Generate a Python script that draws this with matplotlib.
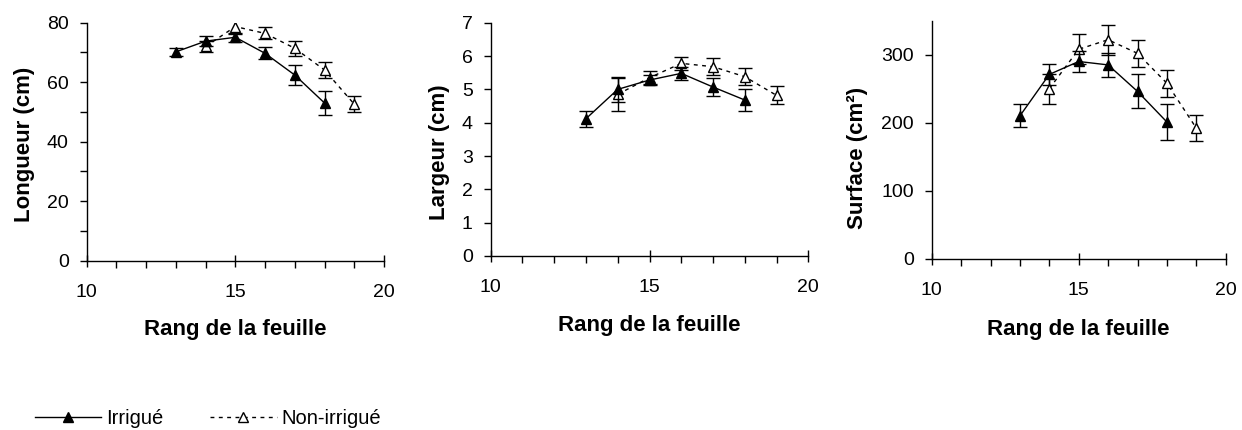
import matplotlib
matplotlib.use("Agg")
import matplotlib.pyplot as plt
from matplotlib.ticker import MultipleLocator
from matplotlib.lines import Line2D

plt.rcParams['font.family'] = ['Liberation Sans', 'DejaVu Sans']

# Data
rang_irr = [13, 14, 15, 16, 17, 18]
rang_non = [14, 15, 16, 17, 18, 19]

long_irr = [70.2, 73.8, 75.1, 69.7, 62.4, 53.0]
long_irr_err = [1.4, 1.6, 1.6, 2.0, 3.3, 4.0]
long_non = [72.0, 78.7, 76.4, 71.4, 64.1, 52.6]
long_non_err = [1.7, 2.4, 2.0, 2.5, 2.6, 2.6]

larg_irr = [4.12, 5.0, 5.28, 5.48, 5.07, 4.68]
larg_irr_err = [0.24, 0.38, 0.16, 0.2, 0.26, 0.32]
larg_non = [4.85, 5.35, 5.78, 5.68, 5.38, 4.82]
larg_non_err = [0.5, 0.2, 0.2, 0.25, 0.25, 0.27]

surf_irr = [210, 271, 290, 285, 246, 201]
surf_irr_err = [17, 16, 16, 18, 25, 26]
surf_non = [250, 308, 322, 302, 258, 192]
surf_non_err = [22, 22, 22, 20, 20, 19]

W, H = 1242, 430
fig = plt.figure(figsize=(W / 100, H / 100), dpi=100)

def make_ax(l, r, t, b):
    return fig.add_axes([l / W, (H - b) / H, (r - l) / W, (b - t) / H])

# (axes box l, r, t, b), ylabel center (x, y) px, xlabel center y px
panels = [
    ((86.7, 384, 22.7, 260.7), long_irr, long_irr_err, long_non, long_non_err,
     (0, 80), 20, 10, 'Longueur (cm)', (25, 144), 329),
    ((490.7, 808.3, 22.7, 256), larg_irr, larg_irr_err, larg_non, larg_non_err,
     (0, 7), 1, 1, 'Largeur (cm)', (440, 152), 325),
    ((931.7, 1225.7, 20.7, 258.7), surf_irr, surf_irr_err, surf_non, surf_non_err,
     (0, 350), 100, 100, 'Surface (cm²)', (857, 158), 329),
]

dash = (0, (2.8, 3.2))
for box, yi, ei, yn, en, ylim, major, minor, ylabel, ylc, xly in panels:
    l, r, t, b = box
    ax = make_ax(l, r, t, b)
    ax.errorbar(rang_non, yn, yerr=en, color='black', linestyle=dash, linewidth=1,
                marker='^', markersize=7, markerfacecolor='white', markeredgecolor='black',
                capsize=5, elinewidth=1, capthick=1, zorder=2)
    ax.errorbar(rang_irr, yi, yerr=ei, color='black', linestyle='-', linewidth=1,
                marker='^', markersize=7, markerfacecolor='black', markeredgecolor='black',
                capsize=5, elinewidth=1, capthick=1, zorder=3)
    ax.set_xlim(10, 20)
    ax.set_ylim(*ylim)
    ax.spines['top'].set_visible(False)
    ax.spines['right'].set_visible(False)
    ax.spines['left'].set_linewidth(1)
    ax.spines['bottom'].set_linewidth(1)
    ax.xaxis.set_major_locator(MultipleLocator(5))
    ax.xaxis.set_minor_locator(MultipleLocator(1))
    ax.yaxis.set_major_locator(MultipleLocator(major))
    ax.yaxis.set_minor_locator(MultipleLocator(minor))
    ax.tick_params(axis='x', which='major', direction='inout', length=9, width=1,
                   labelsize=14, pad=12)
    ax.tick_params(axis='x', which='minor', direction='out', length=5, width=1)
    ax.tick_params(axis='y', which='both', direction='out', length=5, width=1,
                   labelsize=14, pad=8)
    ax.set_xlabel('Rang de la feuille', fontsize=16, fontweight='bold')
    ax.set_ylabel(ylabel, fontsize=16, fontweight='bold')
    # place labels at measured pixel centers
    ax.xaxis.set_label_coords(0.5, (b - xly) / (b - t))
    ax.xaxis.label.set_va('center')
    ax.yaxis.set_label_coords((ylc[0] - l) / (r - l), (b - ylc[1]) / (b - t))
    ax.yaxis.label.set_va('center')
    ax.patch.set_visible(False)

handles = [
    Line2D([], [], color='black', linestyle='-', linewidth=1, marker='^', markersize=7,
           markerfacecolor='black'),
    Line2D([], [], color='black', linestyle=dash, linewidth=1, marker='^', markersize=7,
           markerfacecolor='white'),
]
fig.legend(handles, ['Irrigué', 'Non-irrigué'], loc='center left',
           bbox_to_anchor=(35 / W, (H - 419) / H), ncol=2, frameon=False,
           fontsize=14.5, handlelength=3.3, handletextpad=0.25, columnspacing=2.3,
           borderpad=0, borderaxespad=0)

fig.savefig('out.png', dpi=100)
